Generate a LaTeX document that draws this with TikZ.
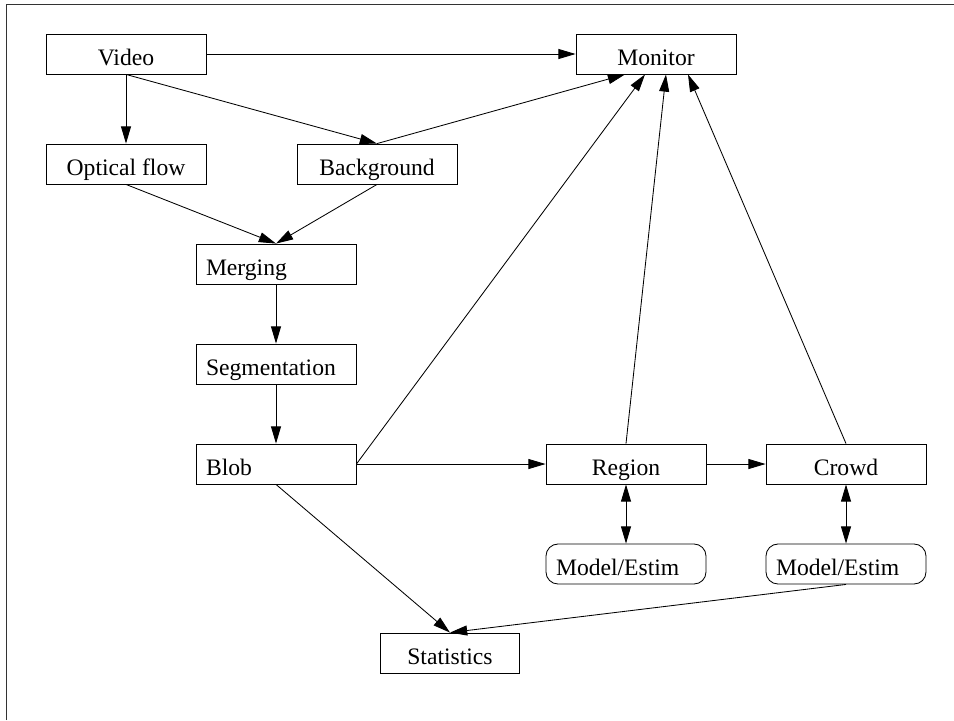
\documentclass[tikz,border=0pt]{standalone}
\usepackage{fontspec}
\setmainfont{Liberation Serif}
\usepackage{tikz}
\usetikzlibrary{positioning, arrows.meta}
\tikzset{
	block/.style={
		rectangle,
		draw=black, line width=0.6pt,
		minimum height=1cm,
		inner xsep=0.25cm,
		text height=16pt, text depth=0pt,
		text centered,
	},
	leftblock/.style={
		block,
		text width=3.5cm,
		align=left,
	},
	softblock/.style={
		leftblock,
		rounded corners=0.3cm,
	},
}

\begin{document}
\begin{tikzpicture}[->,>={Triangle[length=4.3mm,width=2.5mm]}, line width=0.6pt, minimum width = 4cm, font=\fontsize{16.8}{19}\selectfont]
        \useasboundingbox (0,0) rectangle (23.85,-18);
        \draw[-, black!80, line width=0.8pt] (0.16,-18) -- (0.16,-0.11) -- (23.85,-0.11);

        \node[block] at (3.15,-1.35) (V) {Video};
        \node[block, right of = V, node distance =13.25cm] (M) {Monitor};
        \node[block, below of = V, node distance =2.75cm] (O) {Optical flow};
        \node[block, right of = O, node distance =6.275cm] (BG) {Background};
        \node[leftblock, below of = O, xshift = 3.75cm, node distance =2.5cm] (Mg) {Merging};
        \node[leftblock, below of = Mg, node distance =2.5cm] (S) {Segmentation};
        \node[leftblock, below of = S, node distance =2.5cm] (B) {Blob};
        \node[block, right of = B, node distance =8.75cm] (R) {Region};
        \node[block, right of = R, node distance =5.5cm] (C) {Crowd};
        \node[softblock, below of = R, node distance =2.5cm] (ER) {Model/Estim};
        \node[softblock, below of = C, node distance =2.5cm] (EC) {Model/Estim};
        \node[block, below of = B, xshift = 4.35cm, node distance =4.725cm, minimum width=3.475cm] (St) {Statistics};

        \path (V) edge (M)
        (V.south) edge (O.north)
        (V.south) edge (BG.north)
        (O.south) edge (Mg.north)
        (BG.south) edge (Mg.north)
        (BG.north) edge ([xshift=-0.775cm]M.south)
        (Mg) edge (S)
        (S) edge (B)
        (B.east) edge ([xshift=-0.275cm]M.south)
        (B) edge (R)
        (R) edge (C)
        (R.north) edge ([xshift=0.25cm]M.south)
        (C.north) edge ([xshift=0.8cm]M.south)
        (R) edge[<->] (ER)
        (C) edge[<->] (EC)
        (B.south) edge (St.north)
        (EC.south) edge (St.north)
        ;
    \end{tikzpicture}
\end{document}
